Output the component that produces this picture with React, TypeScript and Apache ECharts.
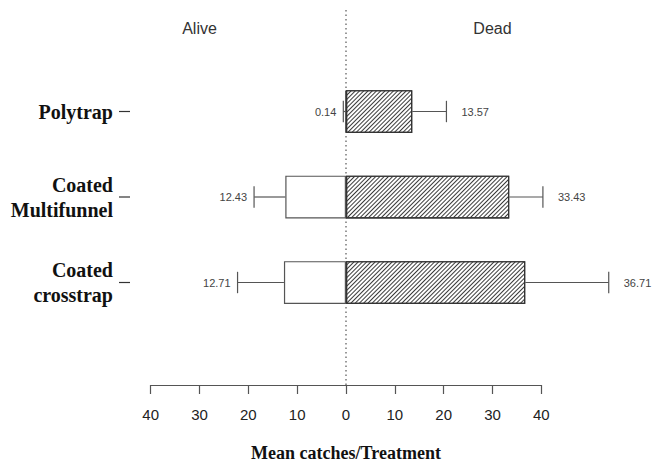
import React, { useEffect, useRef } from "react";
import * as echarts from "echarts";

const categories = ["Polytrap", "Coated\nMultifunnel", "Coated\ncrosstrap"];
const aliveMeans = [0.14, 12.43, 12.71];
const deadMeans = [13.57, 33.43, 36.71];
const aliveErr = [0.41, 6.4, 9.5];
const deadErr = [7.0, 6.9, 17.1];
const xTicks = { min: -40, max: 40, interval: 10 };
const sideLabels = ["Alive", "Dead"];
const sidePositions = [-30, 30];

export default function App() {
  const ref = useRef<HTMLDivElement>(null);
  useEffect(() => {
    if (!ref.current) return;
    const chart = echarts.init(ref.current, null, { renderer: "svg" });

    const errData: any[] = [];
    categories.forEach((_, i) => {
      errData.push([-aliveMeans[i], i, aliveErr[i], -1, aliveMeans[i]]);
      errData.push([deadMeans[i], i, deadErr[i], 1, deadMeans[i]]);
    });

    const option: any = {
      animation: false,
      backgroundColor: "#ffffff",
      grid: [
        { left: 150.7, right: 110.7, top: 68.75, bottom: 138.75, containLabel: false, outerBoundsMode: "none" },
        { left: 150.7, right: 110.7, top: 8, bottom: 79, containLabel: false, outerBoundsMode: "none" },
      ],
      xAxis: [
        {
          gridIndex: 0,
          type: "value",
          min: xTicks.min,
          max: xTicks.max,
          interval: xTicks.interval,
          position: "bottom",
          offset: 59.75,
          axisLine: { show: true, lineStyle: { color: "#555", width: 1.2 } },
          axisTick: { show: true, length: 9, lineStyle: { color: "#555", width: 1.2 } },
          splitLine: { show: false },
          axisLabel: {
            formatter: (v: number) => String(Math.abs(v)),
            fontSize: 15,
            fontFamily: "Liberation Sans",
            color: "#222",
            margin: 22,
          },
          name: "Mean catches/Treatment",
          nameLocation: "middle",
          nameGap: 59,
          nameTextStyle: {
            fontFamily: "Liberation Serif",
            fontWeight: "bold",
            fontSize: 18,
            color: "#111",
          },
        },
        {
          gridIndex: 1,
          type: "value",
          min: xTicks.min,
          max: xTicks.max,
          position: "top",
          axisLine: { show: false },
          axisTick: { show: false },
          splitLine: { show: false },
          axisLabel: {
            inside: true,
            margin: 12,
            customValues: sidePositions,
            formatter: (v: number) => sideLabels[sidePositions.indexOf(v)] ?? "",
            fontSize: 16,
            fontFamily: "Liberation Sans",
            color: "#333",
          },
        },
      ],
      yAxis: [
        {
          gridIndex: 0,
          type: "category",
          data: categories,
          inverse: true,
          offset: 20.7,
          axisLine: { show: false },
          axisTick: { show: false },
          axisLabel: {
            margin: 17,
            fontFamily: "Liberation Serif",
            fontWeight: "bold",
            fontSize: 20,
            lineHeight: 25,
            color: "#111",
            align: "right",
          },
          splitLine: { show: false },
        },
        {
          gridIndex: 1,
          type: "value",
          min: 0,
          max: 1,
          show: false,
        },
      ],
      series: [
        {
          type: "line",
          xAxisIndex: 1,
          yAxisIndex: 1,
          data: [
            [0, 0],
            [0, 1],
          ],
          symbol: "none",
          silent: true,
          lineStyle: { color: "#555", width: 1.2, type: [1.5, 3] },
          z: 1,
        },
        {
          type: "bar",
          xAxisIndex: 0,
          yAxisIndex: 0,
          data: aliveMeans.map((v) => -v),
          barWidth: "50%",
          barGap: "-100%",
          itemStyle: { color: "#ffffff", borderColor: "#555", borderWidth: 1.2 },
          z: 2,
        },
        {
          type: "bar",
          xAxisIndex: 0,
          yAxisIndex: 0,
          data: deadMeans,
          barWidth: "50%",
          barGap: "-100%",
          itemStyle: {
            color: "#ffffff",
            borderColor: "#333",
            borderWidth: 1.2,
            decal: {
              symbol: "rect",
              symbolSize: 1,
              dashArrayX: [1, 0],
              dashArrayY: [1, 1.6],
              rotation: -Math.PI / 4,
              color: "#3a3a3a",
            },
          },
          z: 2,
        },
        {
          type: "custom",
          xAxisIndex: 0,
          yAxisIndex: 0,
          clip: false,
          silent: true,
          data: categories.map((_, i) => [xTicks.min, i]),
          z: 3,
          renderItem: (params: any, api: any) => {
            const p = api.coord([api.value(0), api.value(1)]);
            return {
              type: "line",
              shape: { x1: p[0] - 31.7, y1: p[1], x2: p[0] - 20.7, y2: p[1] },
              style: { stroke: "#333", lineWidth: 1.2 },
            };
          },
        },
        {
          type: "custom",
          xAxisIndex: 0,
          yAxisIndex: 0,
          clip: false,
          data: errData,
          z: 3,
          renderItem: (params: any, api: any) => {
            const mean = api.value(0);
            const idx = api.value(1);
            const err = api.value(2);
            const sign = api.value(3);
            const label = String(api.value(4));
            const s = api.coord([mean, idx]);
            const e = api.coord([mean + sign * err, idx]);
            const half = api.size([0, 1])[1] * 0.125;
            const stroke = { stroke: "#555", lineWidth: 1.2 };
            return {
              type: "group",
              children: [
                { type: "line", shape: { x1: s[0], y1: s[1], x2: e[0], y2: e[1] }, style: stroke },
                { type: "line", shape: { x1: e[0], y1: e[1] - half, x2: e[0], y2: e[1] + half }, style: stroke },
                {
                  type: "text",
                  x: e[0] + (sign > 0 ? 15 : -7),
                  y: e[1],
                  style: {
                    text: label,
                    fill: "#444",
                    font: "11px 'Liberation Sans'",
                    align: sign > 0 ? "left" : "right",
                    verticalAlign: "middle",
                  },
                },
              ],
            };
          },
        },
      ],
    };
    chart.setOption(option);
    return () => chart.dispose();
  }, []);
  return (
    <div
      ref={ref}
      style={{ position: "fixed", left: 0, top: 0, width: 652, height: 464, background: "#fff" }}
    />
  );
}
